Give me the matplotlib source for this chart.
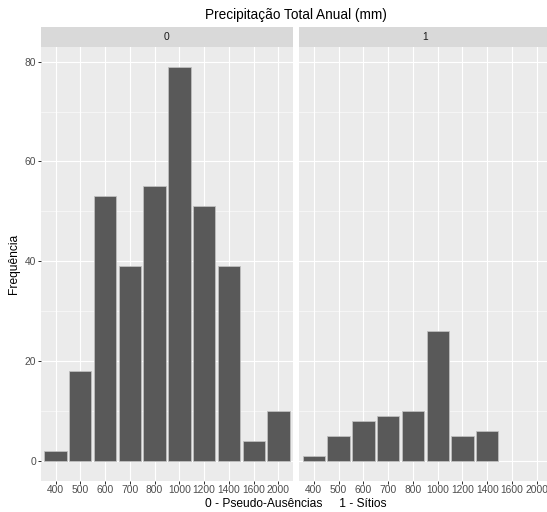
import matplotlib
matplotlib.use("Agg")
import matplotlib.pyplot as plt
import numpy as np

# precipitation classes (mm) and counts per group
classes = ['400', '500', '600', '700', '800', '1000', '1200', '1400', '1600', '2000']
freq_ausencias = [2, 18, 53, 39, 55, 79, 51, 39, 4, 10]
freq_sitios = [1, 5, 8, 9, 10, 26, 5, 6, 0, 0]
groups = ['0', '1']

plt.rcParams['font.family'] = ['Liberation Sans', 'DejaVu Sans']

W, H = 547, 512
fig = plt.figure(figsize=(W / 72, H / 72), dpi=72)

def fx(px):
    return px / W

def fy(py):
    return 1 - py / H

panel_w = 252.6
lefts = [40.7, 299.0]
top, bottom = 47.0, 480.5
strip_top = 27.3

x = np.arange(len(classes))
ymax = max(max(freq_ausencias), max(freq_sitios))
ylim = (-0.05 * ymax, ymax * 1.05)

for i, (vals, lab) in enumerate(zip([freq_ausencias, freq_sitios], groups)):
    l = lefts[i]
    ax = fig.add_axes([fx(l), fy(bottom), panel_w / W, (bottom - top) / H])
    ax.set_facecolor('#EBEBEB')
    ax.set_xlim(-0.6, len(classes) - 0.4)
    ax.set_ylim(*ylim)
    ax.set_yticks([0, 20, 40, 60, 80])
    ax.set_yticks([10, 30, 50, 70], minor=True)
    ax.set_xticks(x)
    ax.set_xticklabels(classes)
    ax.grid(True, which='major', color='white', linewidth=1.1)
    ax.grid(True, which='minor', axis='y', color='white', linewidth=0.55)
    ax.set_axisbelow(True)
    for s in ax.spines.values():
        s.set_visible(False)
    ax.bar(x, [v if v > 0 else np.nan for v in vals], width=0.9,
           color='#595959', edgecolor='#C0C0C0', linewidth=0.8, zorder=3)
    ax.tick_params(axis='both', which='major', length=2.7, width=1.0,
                   color='#333333', labelcolor='#4D4D4D', labelsize=10.2, pad=2)
    ax.tick_params(axis='y', which='minor', length=0)
    if i == 1:
        ax.tick_params(axis='y', which='major', left=False, labelleft=False)
    # facet strip
    sax = fig.add_axes([fx(l), fy(top), panel_w / W, (top - strip_top) / H])
    sax.set_facecolor('#D9D9D9')
    sax.set_xticks([])
    sax.set_yticks([])
    for s in sax.spines.values():
        s.set_visible(False)
    sax.text(0.5, 0.5, lab, ha='center', va='center', fontsize=10.2,
             color='#1A1A1A', transform=sax.transAxes)

center = fx((lefts[0] + lefts[1] + panel_w) / 2)
fig.text(center, fy(15), 'Precipitação Total Anual (mm)', ha='center',
         va='center', fontsize=13.6, color='black')
fig.text(center, fy(504), '0 - Pseudo-Ausências     1 - Sítios', ha='center',
         va='center', fontsize=12, color='black')
fig.text(fx(14), fy((top + bottom) / 2), 'Frequência', rotation=90,
         ha='center', va='center', fontsize=12, color='black')

fig.savefig('out.png', dpi=72, facecolor='white')
